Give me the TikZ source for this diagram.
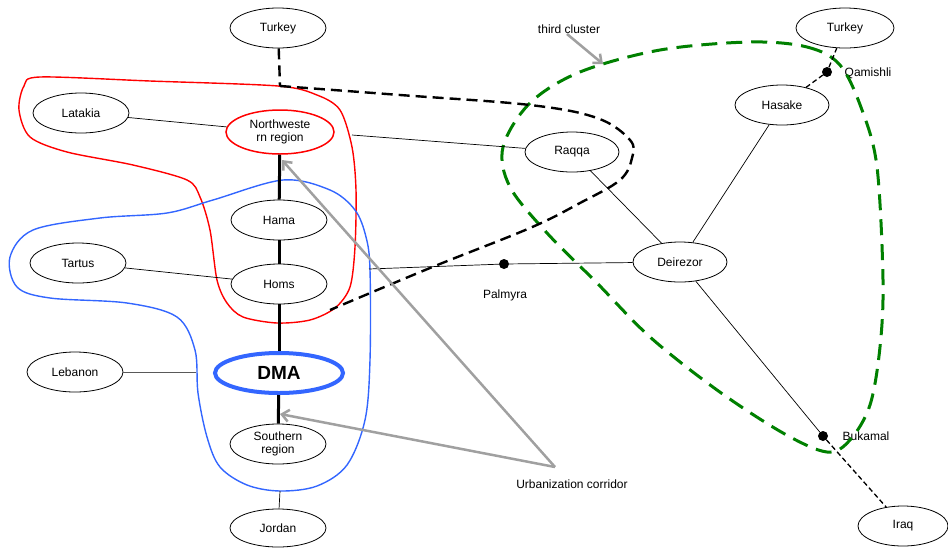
\documentclass[tikz,border=0pt]{standalone}
\usepackage{fontspec}
\setmainfont{Liberation Sans}
\usetikzlibrary{shapes.geometric,arrows.meta}
\definecolor{redc}{RGB}{255,0,0}
\definecolor{bluec}{RGB}{51,102,255}
\definecolor{greenc}{RGB}{0,128,0}
\definecolor{arrowgray}{RGB}{160,160,160}
\begin{document}
\begin{tikzpicture}[x=1pt,y=-1pt,
  city/.style={ellipse,draw,line width=0.8pt,inner sep=0pt,minimum width=96pt,minimum height=40pt,align=center,font=\fontsize{12}{13.5}\selectfont},
  lbl/.style={font=\fontsize{12}{13.5}\selectfont,inner sep=0pt},
  thinline/.style={line width=0.7pt},
  corridor/.style={line width=3pt},
  smalldash/.style={line width=1.3pt,dash pattern=on 5pt off 3pt},
  bigdash/.style={line width=2.4pt,dash pattern=on 11pt off 6pt},
  greendash/.style={line width=3pt,draw=greenc,dash pattern=on 16pt off 9pt},
  dot/.style={circle,fill=black,inner sep=0pt,minimum size=10pt},
  grayarrow/.style={draw=arrowgray,line width=2.5pt,-{Straight Barb[length=7pt,width=12pt]}}
]
\useasboundingbox (0,0) rectangle (948,547);

% regions
\draw[redc,line width=1.4pt] plot[smooth cycle,tension=0.5] coordinates {
 (40,77) (150,81) (278,86) (317,95) (340,110) (352,147) (356,190) (355,247)
 (350,287) (335,308) (310,320) (277,323) (243,317) (227,303) (217,280)
 (210,230) (200,197) (187,180) (133,165) (67,152) (30,137) (19,110) (24,86)};
\draw[bluec,line width=1.4pt] plot[smooth cycle,tension=0.55] coordinates {
 (283,180) (330,190) (355,210) (366,237) (370,270) (370,360) (365,420)
 (347,465) (317,486) (280,491) (247,485) (220,467) (207,437) (198,393)
 (195,350) (177,317) (127,303) (50,298) (17,287) (10,257) (33,230)
 (100,218) (167,213) (213,200)};

% nodes
\node[city] (turkeyL) at (278,28) {Turkey};
\node[city] (latakia) at (81,113) {Latakia};
\node[city,draw=redc,line width=1.5pt,minimum width=108pt,minimum height=44pt] (nw) at (280,132) {Northweste\\rn region};
\node[city] (hama) at (279,220) {Hama};
\node[city] (tartus) at (78,263) {Tartus};
\node[city] (homs) at (279,284) {Homs};
\node[city] (lebanon) at (75,372) {Lebanon};
\node[city,draw=bluec,line width=4pt,minimum width=128pt,minimum height=40pt,font=\fontsize{19}{20}\selectfont\bfseries] (dma) at (279,373) {DMA};
\node[city] (south) at (278,444) {Southern\\region};
\node[city,minimum height=38pt] (jordan) at (278,528) {Jordan};
\node[city,minimum width=94pt] (raqqa) at (572,152) {Raqqa};
\node[city,minimum width=94pt] (deir) at (680,262) {Deirezor};
\node[city,minimum width=94pt] (hasake) at (782,105) {Hasake};
\node[city,minimum width=98pt] (turkeyR) at (845,28) {Turkey};
\node[city,minimum width=90pt] (iraq) at (903,526) {Iraq};

\node[dot] (palmyra) at (504,264) {};
\node[dot] (qamishli) at (827,72) {};
\node[dot] (bukamal) at (823,436) {};
\node[lbl] (palmyraL) at (505,295) {Palmyra};
\node[lbl] (qamishliL) at (868,73) {Qamishli};
\node[lbl] (bukamalL) at (866,436) {Bukamal};
\node[lbl] (third) at (569,29) {third cluster};
\node[lbl] (urban) at (572,484) {Urbanization corridor};

% boundary coordinates
\coordinate (nwr) at (352,135);
\coordinate (bl) at (369,269);
\coordinate (lb) at (196,372);
\coordinate (jb) at (280,491);
\coordinate (bend) at (280,86);
\coordinate (corr) at (555,467);

% third cluster
\draw[greendash] plot[smooth cycle,tension=0.55] coordinates {
 (750,42) (807,47) (840,65) (862,110) (877,167) (883,280) (880,347) (870,405)
 (850,440) (827,452) (783,433) (717,390) (650,337) (597,283) (547,233)
 (510,187) (503,147) (530,103) (580,72) (660,50)};

% connectors
\draw[thinline] (latakia) -- (nw);
\draw[thinline] (nwr) -- (raqqa);
\draw[thinline] (tartus) -- (homs);
\draw[thinline] (bl) -- (palmyra) -- (deir);
\draw[line width=1pt,black!65] (lebanon) -- (lb);
\draw[thinline] (jb) -- (jordan);
\draw[thinline] (raqqa) -- (deir);
\draw[thinline] (hasake) -- (deir);
\draw[thinline] (deir) -- (bukamal);
\draw[smalldash] (bukamal) -- (iraq);
\draw[smalldash] (hasake) -- (qamishli) -- (turkeyR);

\draw[corridor] (nw) -- (hama);
\draw[corridor] (hama) -- (homs);
\draw[corridor] (homs) -- (dma);
\draw[corridor] (dma) -- (south);

\draw[bigdash] (turkeyL) -- (bend)
  plot[smooth,tension=0.6] coordinates {(280,86) (400,95) (530,105) (597,118) (630,140) (632,158) (620,180) (580,203) (530,228) (430,268) (330,310)};

% annotation arrows
\draw[grayarrow] (567,34) -- (603,64);
\draw[grayarrow] (corr) -- (282,160);
\draw[grayarrow] (corr) -- (280,414);
\end{tikzpicture}
\end{document}
